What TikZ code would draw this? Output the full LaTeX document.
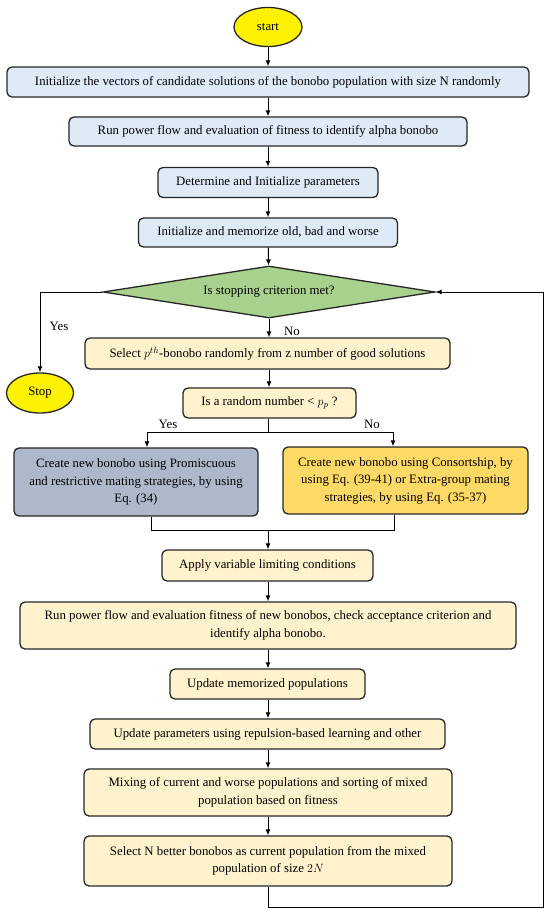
\documentclass[tikz,border=0pt]{standalone}
\usepackage{fontspec}
\setmainfont{Liberation Serif}
\usetikzlibrary{shapes.geometric,arrows.meta}
\definecolor{boxblue}{HTML}{DEEBF7}
\definecolor{boxcream}{HTML}{FFF2CC}
\definecolor{boxgrey}{HTML}{ADB9CA}
\definecolor{boxgold}{HTML}{FFD966}
\definecolor{boxgreen}{HTML}{A9D18E}
\tikzset{
  flowbox/.style={draw=black!85,line width=1.3pt,rounded corners=5pt,align=center,inner sep=2pt},
  bluebox/.style={flowbox,fill=boxblue},
  creambox/.style={flowbox,fill=boxcream},
  endbox/.style={ellipse,draw=black!85,line width=1.3pt,fill=yellow,inner sep=0pt},
  arr/.style={line width=1pt,-{Latex[length=6pt,width=5pt]}},
  lin/.style={line width=1pt},
}
\begin{document}
\begin{tikzpicture}[x=1pt,y=-1pt,font=\fontsize{12.8}{17.5}\selectfont]
  \useasboundingbox (0,0) rectangle (550,915);
  \node[endbox,minimum width=68,minimum height=39] (start) at (268,27) {start};
  \node[bluebox,minimum width=522,minimum height=30] (init) at (268,82)
    {Initialize the vectors of candidate solutions of the bonobo population with size N randomly};
  \node[bluebox,minimum width=398,minimum height=29] (flow) at (268,131.5)
    {Run power flow and evaluation of fitness to identify alpha bonobo};
  \node[bluebox,minimum width=220,minimum height=30] (param) at (268,182.5)
    {Determine and Initialize parameters};
  \node[bluebox,minimum width=259,minimum height=29] (memo) at (268,232.5)
    {Initialize and memorize old, bad and worse};
  \node[diamond,draw=black!85,line width=1.3pt,fill=boxgreen,aspect=6.4,inner sep=0pt,
    minimum width=332,minimum height=52] (stop?) at (269,292) {Is stopping criterion met?};
  \node[endbox,minimum width=67,minimum height=40] (stop) at (40,393) {Stop};
  \node[creambox,minimum width=365,minimum height=31] (select) at (267.5,353.5)
    {Select $p^{th}$-bonobo randomly from z number of good solutions};
  \node[creambox,minimum width=173,minimum height=30] (rand) at (269.5,403)
    {Is a random number < $p_p$ ?};
  \node[flowbox,fill=boxgrey,minimum width=244,minimum height=68] (promis) at (136,482)
    {Create new bonobo using Promiscuous\\and restrictive mating strategies, by using\\Eq. (34)};
  \node[flowbox,fill=boxgold,minimum width=245,minimum height=67] (consort) at (405.5,480.5)
    {Create new bonobo using Consortship, by\\using Eq. (39-41) or Extra-group mating\\strategies, by using Eq. (35-37)};
  \node[creambox,minimum width=211,minimum height=31] (limit) at (267.5,565.5)
    {Apply variable limiting conditions};
  \node[creambox,minimum width=496,minimum height=47] (eval) at (268,625.5)
    {Run power flow and evaluation fitness of new bonobos, check acceptance criterion and\\identify alpha bonobo.};
  \node[creambox,minimum width=195,minimum height=30] (upmem) at (267.5,684)
    {Update memorized populations};
  \node[creambox,minimum width=355,minimum height=30] (uppar) at (267.5,734)
    {Update parameters using repulsion-based learning and other};
  \node[creambox,minimum width=368,minimum height=47] (mix) at (268,792.5)
    {Mixing of current and worse populations and sorting of mixed\\population based on fitness};
  \node[creambox,minimum width=368,minimum height=50] (better) at (268,861)
    {Select N better bonobos as current population from the mixed\\population of size $2N$};
  % main chain
  \draw[arr] (start) -- (init);
  \draw[arr] (init) -- (flow);
  \draw[arr] (flow) -- (param);
  \draw[arr] (param) -- (memo);
  \draw[arr] (memo) -- (stop?);
  \draw[arr] (stop?.west) -| (stop.north);
  \draw (59,326) node{Yes};
  \draw[arr] (stop?.south) -- (select.north -| stop?.south);
  \draw (292,331) node{No};
  \draw[arr] (select.south -| stop?.south) -- (rand.north -| stop?.south);
  % branch
  \coordinate (split) at (268,432);
  \coordinate (ly) at (147,432);
  \coordinate (ry) at (393,432);
  \draw[lin] (rand.south -| split) -- (split);
  \draw[arr] (split) -- (ly) -- (promis.north -| ly);
  \draw[arr] (split) -- (ry) -- (consort.north -| ry);
  \draw (168,424) node{Yes};
  \draw (372,424) node{No};
  \coordinate (merge) at (268,530);
  \coordinate (lm) at (151,530);
  \coordinate (rm) at (394,530);
  \draw[lin] (promis.south -| lm) -- (lm) -- (rm) -- (consort.south -| rm);
  \draw[arr] (merge) -- (limit.north -| merge);
  \draw[arr] (limit.south -| merge) -- (eval.north -| merge);
  \draw[arr] (eval.south -| merge) -- (upmem.north -| merge);
  \draw[arr] (upmem.south -| merge) -- (uppar.north -| merge);
  \draw[arr] (uppar.south -| merge) -- (mix.north -| merge);
  \draw[arr] (mix.south -| merge) -- (better.north -| merge);
  % loop back
  \coordinate (loop) at (543,907);
  \draw[arr] (better.south) |- (loop) |- (stop?.east);
\end{tikzpicture}
\end{document}
